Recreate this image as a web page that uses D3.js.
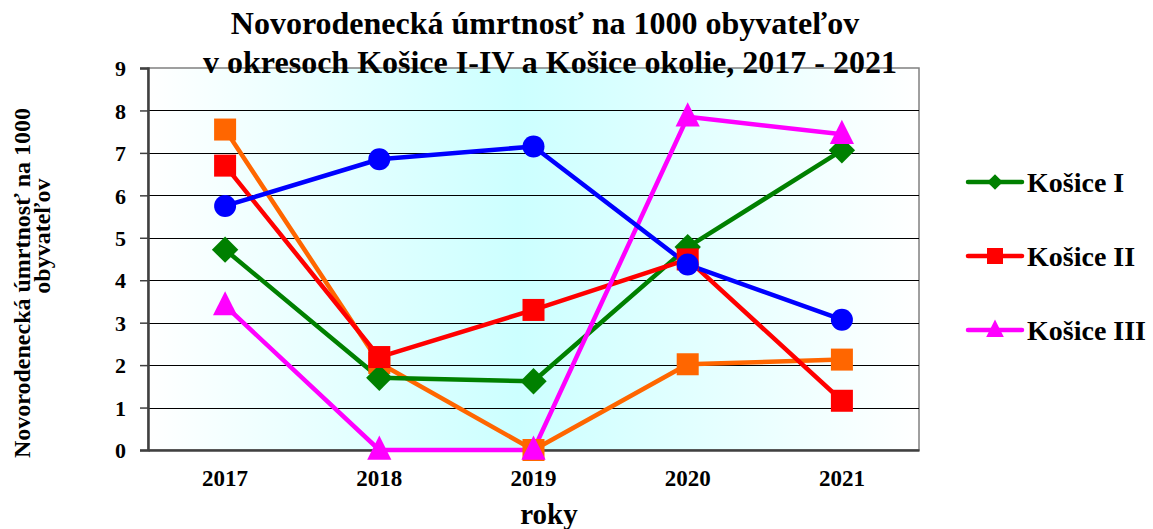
<!DOCTYPE html>
<html>
<head>
<meta charset="utf-8">
<script src="https://cdn.jsdelivr.net/npm/d3@7"></script>
<style>
  body { margin: 0; background: #fff; }
  text { font-family: "Liberation Serif", "Times New Roman", serif; font-weight: bold; fill: #000; }
</style>
</head>
<body>
<div id="chart"></div>
<script>
// data
let years = ["2017", "2018", "2019", "2020", "2021"];
let kosice1 = [4.72, 1.70, 1.62, 4.78, 7.06];
let kosice2 = [6.70, 2.19, 3.30, 4.49, 1.16];
let kosice3 = [3.40, 0, 0, 7.85, 7.44];
let kosice4 = [5.75, 6.85, 7.15, 4.37, 3.07];
let okolie = [7.55, 2.05, 0, 2.02, 2.13];
let yTicks = [0, 1, 2, 3, 4, 5, 6, 7, 8, 9];

let series = [
  {name: "Košice I", values: kosice1, color: "#008000", shape: "diamond", legend: true},
  {name: "Košice II", values: kosice2, color: "#ff0000", shape: "square", legend: true},
  {name: "Košice III", values: kosice3, color: "#ff00ff", shape: "triangle", legend: true},
  {name: "Košice IV", values: kosice4, color: "#0000ff", shape: "circle", legend: false},
  {name: "Košice okolie", values: okolie, color: "#ff6600", shape: "square", legend: false}
];

// draw order as in the picture (okolie underneath)
let drawOrder = [4, 0, 1, 2, 3];

var W = 1153, H = 529;
var margin = {top: 68, right: 234, bottom: 79, left: 148},
  width = W - margin.left - margin.right,
  height = H - margin.top - margin.bottom;

var svg = d3.select("#chart")
  .append("svg")
  .attr("width", W)
  .attr("height", H);

var defs = svg.append("defs");
var grad = defs.append("linearGradient")
  .attr("id", "bg").attr("x1", "0%").attr("x2", "100%").attr("y1", "0%").attr("y2", "0%");
grad.append("stop").attr("offset", "0%").attr("stop-color", "#ffffff");
grad.append("stop").attr("offset", "48%").attr("stop-color", "#ccffff");
grad.append("stop").attr("offset", "100%").attr("stop-color", "#ffffff");

var g = svg.append("g")
  .attr("transform", "translate(" + margin.left + "," + margin.top + ")");

var x = d3.scaleBand().domain(years).range([0, width]);
var y = d3.scaleLinear().domain([0, 9]).range([height, 0]);

// plot area
g.append("rect")
  .attr("width", width).attr("height", height)
  .attr("fill", "url(#bg)")
  .attr("stroke", "#808080").attr("stroke-width", 1.5);

// gridlines
g.selectAll(".grid")
  .data(yTicks.slice(1, -1))
  .enter().append("line")
  .attr("x1", 0).attr("x2", width)
  .attr("y1", d => Math.round(y(d)) + 0.5).attr("y2", d => Math.round(y(d)) + 0.5)
  .attr("stroke", "#000").attr("stroke-width", 1);

// axes
var yAxis = g.append("g")
  .call(d3.axisLeft(y).tickValues(yTicks).tickSize(8).tickPadding(14));
yAxis.select(".domain").attr("stroke", "#404040").attr("stroke-width", 2.5);
yAxis.selectAll(".tick line").attr("stroke", "#404040").attr("stroke-width", 1.5);
yAxis.selectAll("text").style("font-size", "22px").attr("dy", "0.35em");

var xAxis = g.append("g")
  .attr("transform", "translate(0," + height + ")")
  .call(d3.axisBottom(x).tickSize(0).tickPadding(20));
xAxis.select(".domain").attr("stroke", "#404040").attr("stroke-width", 2.5);
xAxis.selectAll("text").style("font-size", "23px");

// lines and markers
var line = d3.line()
  .x((d, i) => x(years[i]) + x.bandwidth() / 2)
  .y(d => y(d));

function marker(sel, shape, color, size) {
  if (shape === "circle") {
    sel.append("circle").attr("r", size * 0.5).attr("fill", color);
  } else if (shape === "square") {
    sel.append("rect").attr("x", -size / 2).attr("y", -size / 2)
      .attr("width", size).attr("height", size).attr("fill", color);
  } else if (shape === "triangle") {
    var s = size * 1.1;
    sel.append("path").attr("d", "M0," + (-s * 0.6) + "L" + (s / 2) + "," + (s * 0.4) + "L" + (-s / 2) + "," + (s * 0.4) + "Z")
      .attr("fill", color);
  } else {
    var s = size * 0.6;
    sel.append("path").attr("d", "M0," + (-s) + "L" + s + ",0L0," + s + "L" + (-s) + ",0Z")
      .attr("fill", color);
  }
}

drawOrder.forEach(k => {
  var s = series[k];
  g.append("path")
    .datum(s.values)
    .attr("d", line)
    .attr("fill", "none")
    .attr("stroke", s.color)
    .attr("stroke-width", 4.5)
    .attr("stroke-linejoin", "round");
});
drawOrder.forEach(k => {
  var s = series[k];
  s.values.forEach((v, i) => {
    var m = g.append("g")
      .attr("transform", "translate(" + (x(years[i]) + x.bandwidth() / 2) + "," + y(v) + ")");
    marker(m, s.shape, s.color, 22);
  });
});

// legend
var legend = svg.append("g").attr("transform", "translate(968,0)");
var legendY = [182, 256, 330];
series.filter(s => s.legend).forEach((s, i) => {
  var lg = legend.append("g").attr("transform", "translate(0," + legendY[i] + ")");
  lg.append("line").attr("x1", 0).attr("x2", 54).attr("y1", 0).attr("y2", 0)
    .attr("stroke", s.color).attr("stroke-width", 4.5).attr("stroke-linecap", "round");
  var m = lg.append("g").attr("transform", "translate(27,0)");
  marker(m, s.shape, s.color, s.shape === "diamond" ? 13 : 16);
  lg.append("text").attr("x", 59).attr("y", 0).attr("dy", "0.35em")
    .style("font-size", "28px").text(s.name);
});

// title
var title = svg.append("text").attr("text-anchor", "middle").style("font-size", "32px");
title.append("tspan").attr("x", 545).attr("y", 34).text("Novorodenecká úmrtnosť na 1000 obyvateľov");
title.append("tspan").attr("x", 550).attr("y", 73).text("v okresoch Košice I-IV a Košice okolie, 2017 - 2021");

// axis titles
svg.append("text").attr("x", 549).attr("y", 524)
  .attr("text-anchor", "middle").style("font-size", "29px").text("roky");

var yt = svg.append("text").attr("text-anchor", "middle")
  .attr("transform", "translate(0,283) rotate(-90)").style("font-size", "24px");
yt.append("tspan").attr("x", 0).attr("y", 30).text("Novorodenecká  úmrtnosť  na  1000");
yt.append("tspan").attr("x", 47).attr("y", 50).text("obyvateľov");
</script>
</body>
</html>
